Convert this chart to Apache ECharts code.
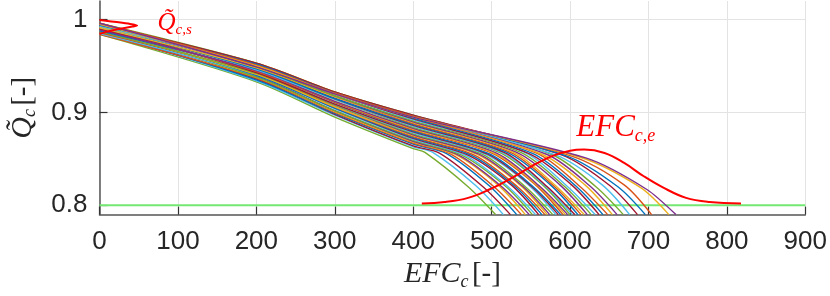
<!DOCTYPE html>
<html><head><meta charset="utf-8">
<script src="https://cdn.jsdelivr.net/npm/echarts@6/dist/echarts.min.js"></script>
<style>html,body{margin:0;padding:0;background:#fff}#c{width:830px;height:296px}</style>
</head><body><div id="c"></div>
<script>
// ---- data ----
const xTicks = [0,100,200,300,400,500,600,700,800,900];
const yTicks = [0.8, 0.9, 1];
// aging trajectories: capacity at EFC 0/200/300/400, knee point, late point, end of life EFC
const q0   = [.984,.986,.985,.987,.984,.988,.986,.989,.985,.987,.990,.986,.988,.991,.987,.989,.992,.988,.990,.993,.989,.991,.994,.990,.992,.995,.991,.993,.996,.992,.994,.993,.995,.992,.994,.996,.993,.995,.994,.996,.995,.996];
const q200 = [.933,.934,.936,.935,.937,.938,.939,.938,.940,.941,.940,.942,.941,.943,.942,.944,.943,.945,.944,.946,.945,.947,.946,.948,.947,.949,.948,.950,.949,.951,.950,.952,.951,.953,.952,.953,.952,.953,.952,.951,.950,.949];
const q300 = [.895,.897,.898,.899,.900,.901,.902,.902,.904,.905,.905,.906,.906,.908,.908,.909,.909,.911,.911,.912,.912,.914,.914,.915,.915,.917,.917,.918,.918,.920,.920,.921,.921,.922,.921,.922,.921,.922,.921,.921,.920,.920];
const q400 = [.861,.863,.864,.866,.867,.868,.869,.870,.871,.872,.873,.874,.875,.876,.877,.878,.879,.880,.881,.882,.883,.884,.885,.886,.887,.888,.889,.890,.891,.892,.893,.894,.895,.896,.896,.897,.896,.897,.896,.896,.895,.895];
const kneeEFC = [415,425,434,442,448,453,458,462,466,470,474,478,481,484,488,492,495,498,501,504,507,510,513,516,520,524,528,532,537,542,547,552,558,564,570,576,582,590,596,602,612,620];
const kneeQ   = [.857,.857,.856,.856,.855,.855,.854,.854,.854,.854,.854,.854,.855,.855,.855,.855,.855,.855,.856,.856,.856,.857,.857,.857,.857,.857,.857,.857,.857,.857,.856,.856,.856,.855,.855,.855,.854,.854,.853,.853,.852,.851];
const lateEFC = [470,480,489,497,503,508,513,517,521,525,529,533,536,539,543,547,550,553,556,559,562,565,568,571,575,579,583,587,592,597,602,607,613,619,625,633,641,651,661,669,690,698];
const lateQ   = [.820,.821,.820,.821,.820,.822,.820,.821,.820,.822,.821,.820,.822,.821,.820,.822,.821,.820,.822,.821,.820,.822,.821,.820,.822,.821,.820,.822,.821,.820,.822,.821,.820,.822,.821,.820,.822,.821,.820,.822,.819,.817];
const endEFC  = [505,515,524,532,538,543,548,552,556,560,564,568,571,574,578,582,585,588,591,594,597,600,603,606,610,614,618,622,627,632,637,642,648,654,660,668,676,686,696,704,726,735];
const endQ = 0.79;
// end-of-life threshold line
const eolEFC = [0, 900];
const eolQ = [0.8, 0.8];
// start capacity distribution (drawn sideways)
const qsQ   = [0.9845,0.987,0.989,0.991,0.9925,0.9936,0.995,0.9965,0.998,0.9995];
const qsPdf = [0,10,20,32,42,48,41,29,15,0];
// end-of-life EFC distribution
const efcE  = [411,440,470,497,526,551,576,600,618,644,669,694,719,748,778,818];
const efcEQ = [0.802,0.8035,0.808,0.817,0.8296,0.842,0.8527,0.8588,0.860,0.8563,0.8456,0.8313,0.819,0.808,0.8036,0.802];

// ---- chart ----
const palette = ['#0072BD','#D95319','#EDB120','#7E2F8E','#77AC30','#4DBEEE','#A2142F'];
const serif = "'Liberation Serif', 'DejaVu Serif', serif";
const chart = echarts.init(document.getElementById('c'), null, {renderer:'canvas'});
const series = [];
for (let i = 0; i < endEFC.length; i++) {
  series.push({
    type:'line', silent:true, showSymbol:false, smooth:0.3,
    data:[[0,q0[i]],[200,q200[i]],[300,q300[i]],[400,q400[i]],[kneeEFC[i],kneeQ[i]],[lateEFC[i],lateQ[i]],[endEFC[i],endQ]],
    lineStyle:{width:1.4, color:palette[(i+4)%7]}, z:2
  });
}
series.push({type:'line', silent:true, showSymbol:false,
  data:eolEFC.map((x,i)=>[x,eolQ[i]]), lineStyle:{width:2,color:'#74e874'}, z:1});
series.push({type:'line', silent:true, showSymbol:false, smooth:0.2,
  data:qsQ.map((q,i)=>[qsPdf[i],q]), lineStyle:{width:2,color:'#ff0000'}, z:5});
series.push({type:'line', silent:true, showSymbol:false, smooth:0.4,
  data:efcE.map((x,i)=>[x,efcEQ[i]]), lineStyle:{width:2,color:'#ff0000'}, z:5});

const axisCol = '#555';
const richName = {
  i:{fontFamily:serif,fontStyle:'italic',fontSize:30,color:'#262626',lineHeight:33},
  s:{fontFamily:serif,fontStyle:'italic',fontSize:18,color:'#262626',verticalAlign:'bottom',lineHeight:33},
  n:{fontFamily:serif,fontSize:29,color:'#262626',lineHeight:33}};
chart.setOption({
  animation:false,
  grid:{left:95, right:20, top:1, bottom:81, containLabel:false},
  xAxis:{type:'value', min:0, max:900, interval:100,
    axisLine:{lineStyle:{color:axisCol,width:1.5}},
    axisTick:{inside:true,length:8,lineStyle:{color:'#333',width:1.2}},
    axisLabel:{fontSize:26,color:'#262626',fontFamily:"'Liberation Sans', Arial, sans-serif",margin:14},
    splitLine:{show:true,lineStyle:{color:'#e3e3e3',width:1}},
    name:'{i|EFC}{s|c} {n|[-]}', nameLocation:'middle', nameGap:43,
    nameTextStyle:{rich:richName}
  },
  yAxis:{type:'value', min:0.79, max:1.02,
    axisLine:{show:true,lineStyle:{color:axisCol,width:1.5}},
    axisTick:{show:true,inside:true,length:8,customValues:yTicks,lineStyle:{color:'#333',width:1.2}},
    axisLabel:{fontSize:26,color:'#262626',fontFamily:"'Liberation Sans', Arial, sans-serif",margin:12,customValues:yTicks},
    splitLine:{show:true,lineStyle:{color:'#e3e3e3',width:1}},
    name:'{i|Q\u0303}{s|c} {n|[-]}', nameLocation:'middle', nameRotate:90, nameGap:60,
    nameTextStyle:{rich:richName}
  },
  series:series
});

// annotations anchored to data coordinates
const pQ = chart.convertToPixel({gridIndex:0},[74,1.0]);
const pE = chart.convertToPixel({gridIndex:0},[608,0.87]);
chart.setOption({graphic:[
  {type:'text', x:pQ[0], y:pQ[1]-10, silent:true, style:{
    text:'{q|Q\u0303}{s|c,s}', fill:'#ff0000', rich:{
      q:{fontFamily:serif,fontStyle:'italic',fontSize:25,fill:'#ff0000',lineHeight:28},
      s:{fontFamily:serif,fontStyle:'italic',fontSize:15,fill:'#ff0000',verticalAlign:'bottom',lineHeight:28}}}},
  {type:'text', x:pE[0], y:pE[1]-29, silent:true, style:{
    text:'{q|EFC}{s|c,e}', fill:'#ff0000', rich:{
      q:{fontFamily:serif,fontStyle:'italic',fontSize:31,fill:'#ff0000',lineHeight:34},
      s:{fontFamily:serif,fontStyle:'italic',fontSize:18,fill:'#ff0000',verticalAlign:'bottom',lineHeight:34}}}}
]});
</script>
</body></html>
